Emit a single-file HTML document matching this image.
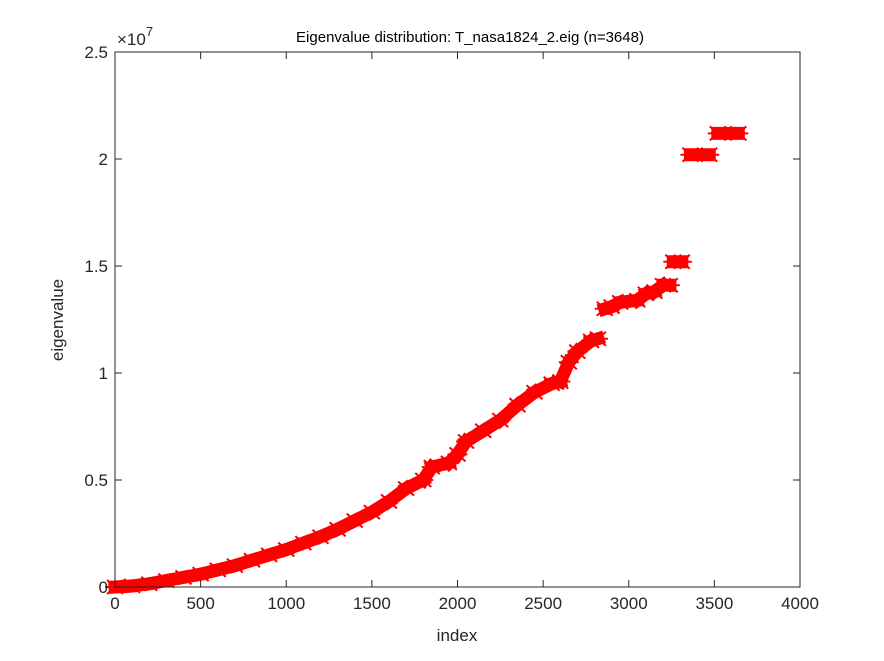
<!DOCTYPE html>
<html><head><meta charset="utf-8"><style>
html,body{margin:0;padding:0;background:#fff}
svg{display:block;font-family:"Liberation Sans",Arial,sans-serif}
</style></head><body>
<svg id="chart" width="884" height="661">
<rect x="0" y="0" width="884" height="661" fill="#fff"/>
<g id="marks"></g>
<g id="axes"></g>
<text x="470" y="42" text-anchor="middle" font-size="15" fill="#000">Eigenvalue distribution: T_nasa1824_2.eig (n=3648)</text>
<text x="457" y="641" text-anchor="middle" font-size="17" fill="#262626">index</text>
<text transform="translate(63,320) rotate(-90)" text-anchor="middle" font-size="17" fill="#262626">eigenvalue</text>
<text x="117" y="45" font-size="17" fill="#262626">×10<tspan dy="-9" font-size="13">7</tspan></text>
</svg>
<script>
const indices=[0,100,200,300,400,500,600,700,800,900,1000,1100,1200,1300,1400,1500,1600,1700,1800,1850,1950,2000,2050,2150,2250,2350,2450,2550,2600,2650,2700,2780,2820,2860,2900,2950,3050,3100,3150,3200,3240,3260,3310,3360,3470,3520,3640];
const values=[0,0.05,0.15,0.3,0.45,0.6,0.8,1.0,1.25,1.5,1.75,2.05,2.35,2.7,3.1,3.5,4.0,4.6,5.0,5.6,5.8,6.2,6.8,7.3,7.8,8.5,9.1,9.5,9.6,10.5,11.0,11.5,11.6,13.0,13.1,13.3,13.4,13.7,13.8,14.1,14.1,15.2,15.2,20.2,20.2,21.2,21.2];
const xTicks=[0,500,1000,1500,2000,2500,3000,3500,4000];
const yTicks=[0,0.5,1,1.5,2,2.5];
const X0=115,X1=800,Y0=587,Y1=52;
const xs=i=>X0+i/4000*(X1-X0);
const ys=v=>Y0-v/25*(Y0-Y1); // v in 1e6
const yt=v=>Y0-v/2.5*(Y0-Y1);
const NS="http://www.w3.org/2000/svg";
const marks=document.getElementById('marks');
function mk(tag,attrs,parent){const e=document.createElementNS(NS,tag);for(const k in attrs)e.setAttribute(k,attrs[k]);parent.appendChild(e);return e;}
for(let k=1;k<indices.length;k++){
  if(Math.abs(values[k]-values[k-1])>0.95)continue;
  const l=mk('line',{x1:xs(indices[k-1]),y1:ys(values[k-1]),x2:xs(indices[k]),y2:ys(values[k]),stroke:'#ff0000','stroke-width':13,'stroke-linecap':'square'},marks);
  
  
}
for(let k=0;k<indices.length;k++){
  const cx=xs(indices[k]),cy=ys(values[k]);
  const g=mk('path',{d:`M${cx-8},${cy-7}L${cx+8},${cy+7}M${cx-8},${cy+7}L${cx+8},${cy-7}M${cx-10},${cy}L${cx+10},${cy}`,stroke:'#ff0000','stroke-width':2,fill:'none'},marks);
  
  
}
const axes=document.getElementById('axes');
const box=mk('rect',{x:X0,y:Y1,width:X1-X0,height:Y0-Y1,fill:'none',stroke:'#262626','stroke-width':1},axes);


xTicks.forEach(t=>{
  const x=xs(t);
  mk('line',{x1:x,y1:Y0,x2:x,y2:Y0-7,stroke:'#262626'},axes);
  mk('line',{x1:x,y1:Y1,x2:x,y2:Y1+7,stroke:'#262626'},axes);
  const tx=mk('text',{x:x,y:Y0+22,'text-anchor':'middle','font-size':17,fill:'#262626'},axes);
  tx.textContent=t;
  
  
});
yTicks.forEach(t=>{
  const y=yt(t);
  mk('line',{x1:X0,y1:y,x2:X0+7,y2:y,stroke:'#262626'},axes);
  mk('line',{x1:X1,y1:y,x2:X1-7,y2:y,stroke:'#262626'},axes);
  const tx=mk('text',{x:X0-7,y:y+6,'text-anchor':'end','font-size':17,fill:'#262626'},axes);
  tx.textContent=t;
  
  
});
</script>
</body></html>
